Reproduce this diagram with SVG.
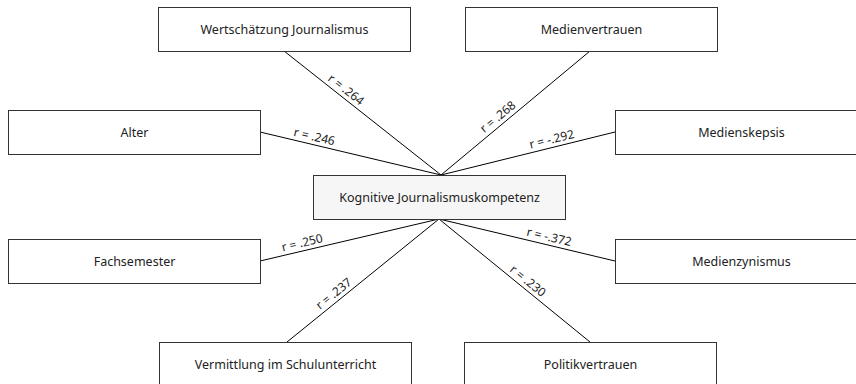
<svg xmlns="http://www.w3.org/2000/svg" width="856" height="384" viewBox="0 0 856 384">
<style>
.box{fill:#ffffff;stroke:#333333;stroke-width:1}
.hub{fill:#f6f6f6;stroke:#333333;stroke-width:1}
.t{font-family:"Noto Sans","Open Sans",sans-serif;font-size:12.5px;fill:#222222;text-anchor:middle;dominant-baseline:central}
.c{stroke:#000000;stroke-width:1;fill:none}
.l{font-family:"Noto Sans","Open Sans",sans-serif;font-size:12px;fill:#222222;text-anchor:middle}
</style>
<rect width="856" height="384" fill="#ffffff"/>
<g id="connectors">
<line class="c" x1="284" y1="51" x2="441" y2="175"/>
<line class="c" x1="590" y1="51" x2="441" y2="175"/>
<line class="c" x1="260" y1="132" x2="441" y2="175"/>
<line class="c" x1="615" y1="132" x2="441" y2="175"/>
<line class="c" x1="260" y1="261" x2="439" y2="219"/>
<line class="c" x1="615" y1="261" x2="439" y2="219"/>
<line class="c" x1="287" y1="342" x2="439" y2="219"/>
<line class="c" x1="590" y1="342" x2="439" y2="219"/>
<text class="l" transform="translate(341,96) rotate(38.3)" y="-4">r = .264</text>
<text class="l" transform="translate(503,123) rotate(-39.8)" y="-4">r = .268</text>
<text class="l" transform="translate(312.5,144.5) rotate(13.4)" y="-4">r = .246</text>
<text class="l" transform="translate(553.6,147.2) rotate(-13.9)" y="-4">r = -.292</text>
<text class="l" transform="translate(304,250.6) rotate(-13.2)" y="-4">r = .250</text>
<text class="l" transform="translate(547.2,244.8) rotate(13.4)" y="-4">r = -.372</text>
<text class="l" transform="translate(338.8,300) rotate(-39)" y="-4">r = .237</text>
<text class="l" transform="translate(522.8,287.2) rotate(39.2)" y="-4">r = .230</text>
</g>
<g id="wertschaetzung"><rect class="box" x="158.5" y="7.5" width="252" height="44"/><text class="t" x="284.5" y="29.5">Wertschätzung Journalismus</text></g>
<g id="medienvertrauen"><rect class="box" x="465.5" y="7.5" width="252" height="44"/><text class="t" x="591.5" y="29.5">Medienvertrauen</text></g>
<g id="alter"><rect class="box" x="8.5" y="110.5" width="252" height="44"/><text class="t" x="134.5" y="132.5">Alter</text></g>
<g id="medienskepsis"><rect class="box" x="615.5" y="110.5" width="252" height="44"/><text class="t" x="741.5" y="132.5">Medienskepsis</text></g>
<g id="kompetenz"><rect class="hub" x="313.5" y="175.5" width="252" height="44"/><text class="t" x="439.5" y="197.5">Kognitive Journalismuskompetenz</text></g>
<g id="fachsemester"><rect class="box" x="8.5" y="239.5" width="252" height="44"/><text class="t" x="134.5" y="261.5">Fachsemester</text></g>
<g id="medienzynismus"><rect class="box" x="615.5" y="239.5" width="252" height="44"/><text class="t" x="741.5" y="261.5">Medienzynismus</text></g>
<g id="vermittlung"><rect class="box" x="159.5" y="342.5" width="252" height="44"/><text class="t" x="285.5" y="364.5">Vermittlung im Schulunterricht</text></g>
<g id="politikvertrauen"><rect class="box" x="464.5" y="342.5" width="252" height="44"/><text class="t" x="590.5" y="364.5">Politikvertrauen</text></g>
</svg>
